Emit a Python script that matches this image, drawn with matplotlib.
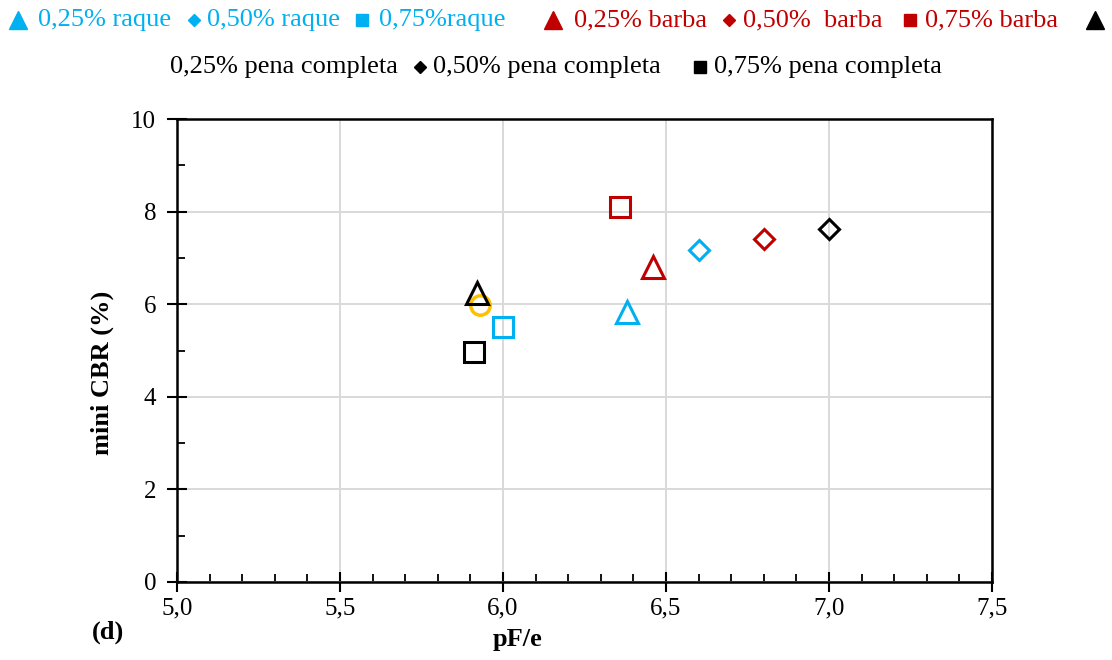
import matplotlib.pyplot as plt
from matplotlib.lines import Line2D

plt.rcParams['font.family'] = ['Liberation Serif', 'DejaVu Sans']

# data
fibra = ['raque', 'barba', 'pena completa']
teor = ['0,25%', '0,50%', '0,75%']
cores = ['#00B0F0', '#C00000', '#000000']
marcadores = ['^', 'D', 's']

pf_e = [[6.38, 6.60, 6.00],    # raque
        [6.46, 6.80, 6.36],    # barba
        [5.92, 7.00, 5.91]]    # pena completa
cbr = [[5.83, 7.16, 5.50],
       [6.80, 7.40, 8.11],
       [6.25, 7.62, 4.97]]

# unlabeled orange point
extra_x = [5.93]
extra_y = [5.98]

W, H = 1112, 660
fig = plt.figure(figsize=(W / 100, H / 100), dpi=100)
ax = fig.add_axes([177 / W, 1 - 582 / H, (992 - 177) / W, (582 - 119) / H])

tamanhos = {'^': 16, 'D': 10.5, 's': 14}
for i in range(3):
    for j in range(3):
        ax.plot(pf_e[i][j], cbr[i][j], linestyle='none', marker=marcadores[j],
                markersize=tamanhos[marcadores[j]], markerfacecolor='none',
                markeredgecolor=cores[i], markeredgewidth=2.2, zorder=3)
ax.plot(extra_x, extra_y, linestyle='none', marker='o', markersize=14,
        markerfacecolor='none', markeredgecolor='#FFC000', markeredgewidth=2.5, zorder=2)

ax.set_xlim(5.0, 7.5)
ax.set_ylim(0, 10)
ax.set_xticks([5.0, 5.5, 6.0, 6.5, 7.0, 7.5])
ax.set_xticklabels(['5,0', '5,5', '6,0', '6,5', '7,0', '7,5'])
ax.set_yticks([0, 2, 4, 6, 8, 10])
ax.set_xticks([5.0 + 0.1 * k for k in range(26)], minor=True)
ax.set_yticks([1, 3, 5, 7, 9], minor=True)
ax.grid(True, which='major', color='#d9d9d9', linewidth=1.4)
ax.set_axisbelow(True)
ax.tick_params(which='major', direction='inout', length=14, width=1.5,
               labelsize=18, pad=4)
ax.tick_params(axis='y', which='major', pad=8)
ax.tick_params(which='minor', direction='in', length=6, width=1.3)
for s in ax.spines.values():
    s.set_linewidth(1.8)

ax.set_xlabel('pF/e', fontsize=19, fontweight='bold')
ax.xaxis.set_label_coords(0.418, -0.099)
ax.set_ylabel('mini CBR (%)', fontsize=19, fontweight='bold')
ax.yaxis.set_label_coords(-0.077, 0.451)
fig.text(92 / W, 1 - 632 / H, '(d)', fontsize=19, fontweight='bold', va='center')

# legend laid out like the original (wrapped text line)
def item(xm, xt, y, mk, cor, rotulo, ms):
    fig.add_artist(Line2D([xm / W], [1 - y / H], transform=fig.transFigure,
                          marker=mk, markersize=ms, color=cor, linestyle='none'))
    if rotulo:
        fig.text(xt / W, 1 - y / H, rotulo, color=cor, fontsize=19, va='center')

leg_ms = {'^': 12.5, 'D': 6.5, 's': 8}
linha1 = [(18, 38), (194, 207), (362, 379), (553, 574), (729, 743), (910, 925)]
rot = ['0,25% raque', '0,50% raque', '0,75%raque',
       '0,25% barba', '0,50%  barba', '0,75% barba']
for k, (xm, xt) in enumerate(linha1):
    i, j = divmod(k, 3)
    item(xm, xt, 20, marcadores[j], cores[i], rot[k], leg_ms[marcadores[j]])
item(1095, 0, 20, '^', cores[2], '', leg_ms['^'])
fig.text(170 / W, 1 - 67 / H, teor[0] + ' ' + fibra[2], color=cores[2], fontsize=19, va='center')
item(420, 433, 67, 'D', cores[2], teor[1] + ' ' + fibra[2], leg_ms['D'])
item(700, 714, 67, 's', cores[2], teor[2] + ' ' + fibra[2], leg_ms['s'])

fig.savefig('out.png', dpi=100)
